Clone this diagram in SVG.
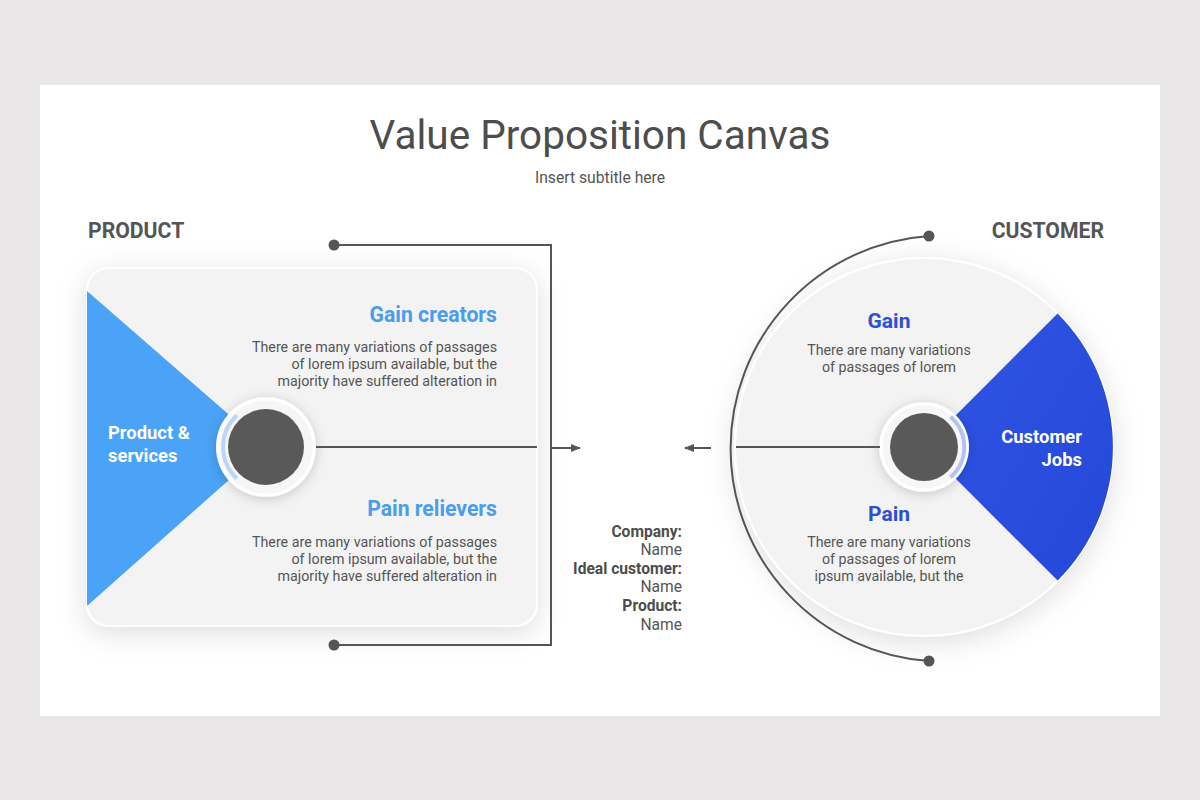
<svg xmlns="http://www.w3.org/2000/svg" width="1200" height="800" viewBox="0 0 1200 800">
<defs>
<style>
text{font-family:Roboto,"Liberation Sans",sans-serif;}
.title{font-size:40.5px;fill:#4d4d4d;}
.sub{font-size:15.7px;fill:#555;}
.sec{font-size:21.2px;font-weight:bold;fill:#555;}
.h-l{font-size:21.2px;font-weight:bold;fill:#4a9ded;}
.h-r{font-size:21px;font-weight:bold;fill:#2b4fd8;}
.body{font-size:14.25px;fill:#555;}
.wh{font-size:18.4px;font-weight:bold;fill:#fff;}
.lbl{font-size:15.6px;font-weight:bold;fill:#4d4d4d;}
.nm{font-size:15.6px;fill:#555;}
.ln{stroke:#555;stroke-width:2;fill:none;}
.dot{fill:#555;}
</style>
<filter id="sh" x="-30%" y="-30%" width="160%" height="160%">
<feDropShadow dx="0" dy="6" stdDeviation="14" flood-color="#000" flood-opacity="0.13"/>
</filter>
<filter id="sh2" x="-40%" y="-40%" width="180%" height="180%">
<feDropShadow dx="0" dy="2" stdDeviation="6" flood-color="#000" flood-opacity="0.18"/>
</filter>
<marker id="arr" viewBox="0 0 10 10" refX="9" refY="5" markerWidth="10" markerHeight="10" markerUnits="userSpaceOnUse" orient="auto">
<path d="M0,1 L10,5 L0,9 Z" fill="#555"/>
</marker>
<clipPath id="panelClip"><rect x="87" y="268" width="450" height="358" rx="22"/></clipPath>
<linearGradient id="rb" x1="0" y1="0" x2="1" y2="1">
<stop offset="0" stop-color="#2f55e6"/><stop offset="1" stop-color="#2447d6"/>
</linearGradient>
</defs>
<rect x="0" y="0" width="1200" height="800" fill="#e8e6e6"/>
<rect x="40" y="85" width="1120" height="631" fill="#fff"/>

<g id="title">
<text class="title" x="600" y="149" text-anchor="middle">Value Proposition Canvas</text>
<text class="sub" x="600" y="183" text-anchor="middle">Insert subtitle here</text>
</g>

<g id="product-label"><text class="sec" x="88" y="238">PRODUCT</text></g>
<g id="customer-label"><text class="sec" x="1104" y="238" text-anchor="end">CUSTOMER</text></g>

<g id="product-panel">
<rect x="87" y="268" width="450" height="358" rx="22" fill="#f3f3f3" stroke="#fff" stroke-width="2" filter="url(#sh)"/>
<polygon points="87,291 266,447 87,606" fill="#4aa3f7" clip-path="url(#panelClip)"/>
<text class="wh" x="108" y="439">Product &amp;</text>
<text class="wh" x="108" y="462">services</text>
</g>

<g id="gain-creators">
<text class="h-l" x="497" y="322" text-anchor="end">Gain creators</text>
<text class="body" x="497" y="352" text-anchor="end">There are many variations of passages</text>
<text class="body" x="497" y="369" text-anchor="end">of lorem ipsum available, but the</text>
<text class="body" x="497" y="386" text-anchor="end">majority have suffered alteration in</text>
</g>

<g id="pain-relievers">
<text class="h-l" x="497" y="516" text-anchor="end">Pain relievers</text>
<text class="body" x="497" y="547" text-anchor="end">There are many variations of passages</text>
<text class="body" x="497" y="564" text-anchor="end">of lorem ipsum available, but the</text>
<text class="body" x="497" y="581" text-anchor="end">majority have suffered alteration in</text>
</g>

<g id="product-hub">
<circle cx="266" cy="447" r="50" fill="#f7f7f7" filter="url(#sh2)"/>
<circle cx="266" cy="447" r="48" fill="#f6f6f6" stroke="#fff" stroke-width="3"/>
<path d="M236.9,415.5 A43,43 0 0 0 236.9,478.5" fill="none" stroke="#bcd7f6" stroke-width="4"/>
<circle cx="266" cy="447" r="38" fill="#595959"/>
</g>

<g id="customer-circle">
<circle cx="924" cy="447" r="189" fill="#f3f3f3" stroke="#fff" stroke-width="2" filter="url(#sh)"/>
<path d="M955.1,415.9 L1057.6,313.4 A189,189 0 0 1 1057.6,580.6 L955.1,478.1 A44,44 0 0 0 955.1,415.9 Z" fill="url(#rb)"/>
<text class="wh" x="1082" y="443" text-anchor="end">Customer</text>
<text class="wh" x="1082" y="466" text-anchor="end">Jobs</text>
</g>

<g id="gain">
<text class="h-r" x="889" y="328" text-anchor="middle">Gain</text>
<text class="body" x="889" y="355" text-anchor="middle">There are many variations</text>
<text class="body" x="889" y="372" text-anchor="middle">of passages of lorem</text>
</g>

<g id="pain">
<text class="h-r" x="889" y="521" text-anchor="middle">Pain</text>
<text class="body" x="889" y="547" text-anchor="middle">There are many variations</text>
<text class="body" x="889" y="564" text-anchor="middle">of passages of lorem</text>
<text class="body" x="889" y="581" text-anchor="middle">ipsum available, but the</text>
</g>

<g id="customer-hub">
<circle cx="924" cy="447" r="45" fill="#f7f7f7" filter="url(#sh2)"/>
<circle cx="924" cy="447" r="43" fill="#f6f6f6" stroke="#fff" stroke-width="3"/>
<path d="M950.5,416.8 A40,40 0 0 1 950.5,477.2" fill="none" stroke="#b4c3f0" stroke-width="4"/>
<circle cx="924" cy="447" r="34" fill="#595959"/>
</g>

<g id="info">
<text class="lbl" x="682" y="537" text-anchor="end">Company:</text>
<text class="nm" x="682" y="555" text-anchor="end">Name</text>
<text class="lbl" x="682" y="574" text-anchor="end">Ideal customer:</text>
<text class="nm" x="682" y="592" text-anchor="end">Name</text>
<text class="lbl" x="682" y="611" text-anchor="end">Product:</text>
<text class="nm" x="682" y="630" text-anchor="end">Name</text>
</g>

<g id="connectors">
<line class="ln" x1="316" y1="447" x2="537" y2="447"/>
<polyline class="ln" points="334,245 551,245 551,645 334,645"/>
<circle class="dot" cx="334" cy="245" r="5.5"/>
<circle class="dot" cx="334" cy="645" r="5.5"/>
<line class="ln" x1="551" y1="448" x2="580" y2="448" marker-end="url(#arr)"/>
<line class="ln" x1="880" y1="447" x2="736" y2="447"/>
<path class="ln" d="M929,236 A213,213 0 0 0 929,661"/>
<circle class="dot" cx="929" cy="236" r="5.5"/>
<circle class="dot" cx="929" cy="661" r="5.5"/>
<line class="ln" x1="711" y1="448" x2="685" y2="448" marker-end="url(#arr)"/>
</g>
</svg>
